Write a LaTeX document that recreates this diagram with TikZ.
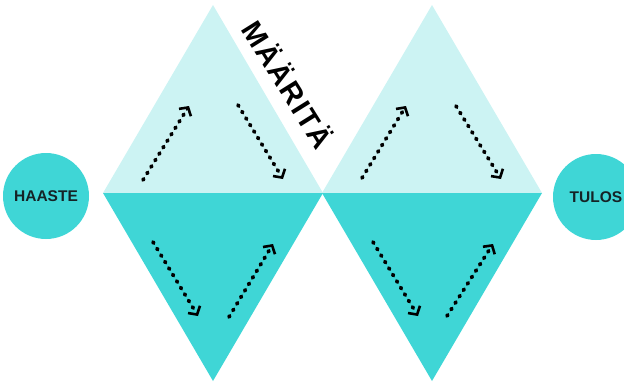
\documentclass[tikz,border=0pt]{standalone}
\usepackage{fontspec}
\setmainfont{Liberation Sans}
\usetikzlibrary{arrows.meta}
\definecolor{mist}{HTML}{CCF3F3}
\definecolor{aqua}{HTML}{3FD6D6}
\definecolor{ink}{HTML}{152326}
\tikzset{
  tophalf/.style={fill=mist},
  bothalf/.style={fill=aqua},
  endpoint/.style={circle, fill=aqua, minimum size=86pt, inner sep=0pt, text=ink,
                   font=\fontsize{15.5}{15.5}\selectfont\bfseries},
  phase/.style={font=\fontsize{29}{29}\selectfont\bfseries\addfontfeature{LetterSpace=6}, text=black},
  flow/.style={-{Straight Barb[length=6pt, width=14pt, line width=2.6pt]}, draw=black,
               line width=3.8pt, line cap=round, dash pattern=on 1.4pt off 6.2pt},
}
\begin{document}
\begin{tikzpicture}[x=1pt, y=-1pt]
\useasboundingbox (0,0) rectangle (624,383);
% first diamond
\fill[tophalf] (213,5) -- (103,193) -- (323,193) -- cycle;
\fill[bothalf] (103,193) -- (323,193) -- (213,381) -- cycle;
% second diamond
\fill[tophalf] (432,5) -- (322,193) -- (542,193) -- cycle;
\fill[bothalf] (322,193) -- (542,193) -- (432,381) -- cycle;

\node[endpoint] (haaste) at (46,196) {HAASTE};
\node[endpoint] (tulos) at (596,197) {TULOS};
\node[phase, rotate=-58] (maarita) at (289,84) {MÄÄRITÄ};

% arrow ends
\coordinate (p1s) at (143,180); \coordinate (p1e) at (189,106);
\coordinate (p2s) at (238,105); \coordinate (p2e) at (283,179);
\coordinate (p3s) at (153,242); \coordinate (p3e) at (198,316);
\coordinate (p4s) at (229,317); \coordinate (p4e) at (273,244);
\coordinate (q1s) at (362,178); \coordinate (q1e) at (406,106);
\coordinate (q2s) at (456,106); \coordinate (q2e) at (501,179);
\coordinate (q3s) at (373,242); \coordinate (q3e) at (418,316);
\coordinate (q4s) at (447,316); \coordinate (q4e) at (493,244);

\draw[flow] (p1s) -- (p1e);
\draw[flow] (p2s) -- (p2e);
\draw[flow] (p3s) -- (p3e);
\draw[flow] (p4s) -- (p4e);
\draw[flow] (q1s) -- (q1e);
\draw[flow] (q2s) -- (q2e);
\draw[flow] (q3s) -- (q3e);
\draw[flow] (q4s) -- (q4e);
\end{tikzpicture}
\end{document}
